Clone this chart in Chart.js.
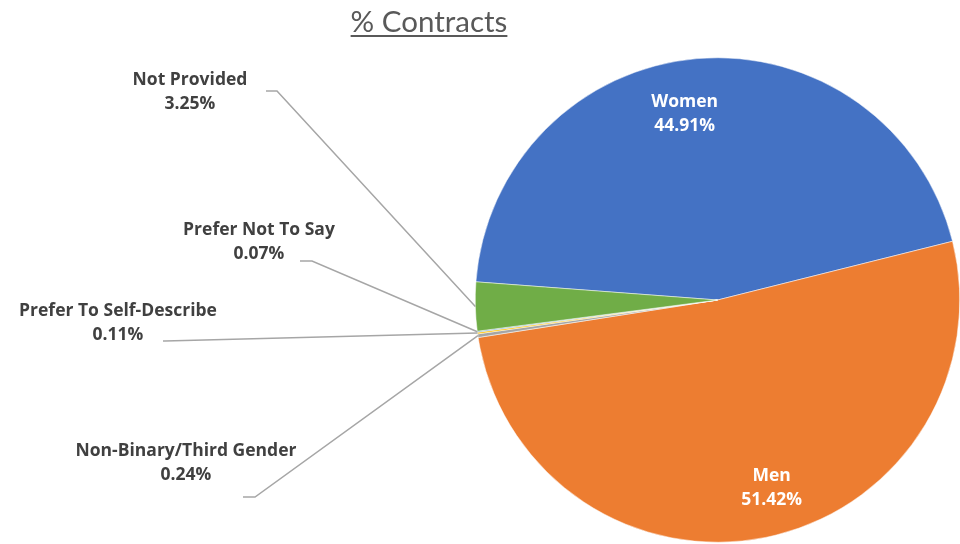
<!DOCTYPE html>
<html>
<head>
<meta charset="utf-8">
<script src="https://cdn.jsdelivr.net/npm/chart.js@4.4.1/dist/chart.umd.min.js"></script>
<style>
  html, body { margin: 0; padding: 0; background: #fff; }
  #wrap { position: relative; width: 960px; height: 544px; }
</style>
</head>
<body>
<div id="wrap"><canvas id="chart" width="960" height="544"></canvas></div>
<script>
// ---- data ----
const categories = ['Women', 'Men', 'Non-Binary/Third Gender', 'Prefer To Self-Describe', 'Prefer Not To Say', 'Not Provided'];
const shares = [44.91, 51.42, 0.24, 0.11, 0.07, 3.25];
const sliceColors = ['#4472C4', '#ED7D31', '#A5A5A5', '#FFC000', '#5B9BD5', '#70AD47'];

// label layout (inside labels: fraction of radius + nudge; outside: text centre + elbow)
const labelFont = 'bold 17.5px "Century Gothic", "Open Sans", sans-serif';
const insideLabels = {
  0: { frac: 0.77, dx: -17, dy: 0 },
  1: { frac: 0.79, dx: 16, dy: 0 }
};
const outsideLabels = {
  5: { x: 190, y: 80, elbow: [277, 91], end: [266, 91] },
  4: { x: 259, y: 230, elbow: [312, 261], end: [300, 261] },
  3: { x: 118, y: 311, elbow: [165, 341], end: [163, 341] },
  2: { x: 186, y: 451, elbow: [255, 497], end: [243, 497] }
};

const pieLabels = {
  id: 'pieLabels',
  afterDatasetsDraw(chart) {
    const ctx = chart.ctx;
    const arcs = chart.getDatasetMeta(0).data;
    ctx.save();
    ctx.font = labelFont;
    ctx.textAlign = 'center';
    ctx.textBaseline = 'middle';
    arcs.forEach((arc, i) => {
      const mid = (arc.startAngle + arc.endAngle) / 2;
      const txt = shares[i].toFixed(2) + '%';
      if (insideLabels[i]) {
        const o = insideLabels[i];
        const x = arc.x + Math.cos(mid) * arc.outerRadius * o.frac + o.dx;
        const y = arc.y + Math.sin(mid) * arc.outerRadius * o.frac + o.dy;
        ctx.fillStyle = '#ffffff';
        ctx.fillText(categories[i], x, y - 12);
        ctx.fillText(txt, x, y + 12);
      } else if (outsideLabels[i]) {
        const o = outsideLabels[i];
        const ex = arc.x + Math.cos(mid) * arc.outerRadius;
        const ey = arc.y + Math.sin(mid) * arc.outerRadius;
        ctx.strokeStyle = '#A6A6A6';
        ctx.lineWidth = 1.5;
        ctx.beginPath();
        ctx.moveTo(ex, ey);
        ctx.lineTo(o.elbow[0], o.elbow[1]);
        ctx.lineTo(o.end[0], o.end[1]);
        ctx.stroke();
        ctx.fillStyle = '#404040';
        ctx.fillText(categories[i], o.x, o.y);
        ctx.fillText(txt, o.x, o.y + 24);
      }
    });
    ctx.restore();
  }
};

new Chart(document.getElementById('chart'), {
  type: 'pie',
  data: {
    labels: categories,
    datasets: [{
      data: shares,
      backgroundColor: sliceColors,
      borderColor: '#ffffff',
      borderWidth: 0.5
    }]
  },
  options: {
    responsive: false,
    animation: false,
    rotation: 274.3,
    layout: { padding: { left: 475, right: 0, top: 57, bottom: 1 } },
    plugins: {
      legend: { display: false },
      tooltip: { enabled: false },
      title: { display: false }
    }
  },
  plugins: [pieLabels, {
    id: 'underlinedTitle',
    afterDraw(chart) {
      const ctx = chart.ctx;
      const text = '% Contracts';
      ctx.save();
      ctx.font = '29.5px "Century Gothic", Lato, sans-serif';
      ctx.fillStyle = '#595959';
      ctx.textAlign = 'center';
      ctx.textBaseline = 'alphabetic';
      ctx.fillText(text, 429, 32);
      const w = ctx.measureText(text).width;
      ctx.fillRect(429 - w / 2, 35, w, 2);
      ctx.restore();
    }
  }]
});
</script>
</body>
</html>
